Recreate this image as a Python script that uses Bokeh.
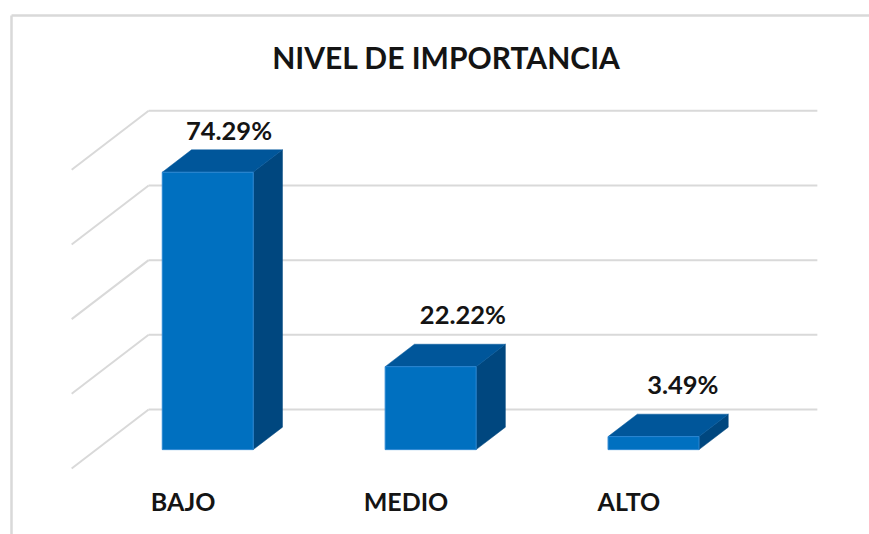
from bokeh.plotting import figure
from bokeh.models import Range1d, ColumnDataSource
from bokeh.embed import file_html
from bokeh.resources import INLINE
from bokeh.core.properties import value

# ---------------- data ----------------
categories = ["BAJO", "MEDIO", "ALTO"]
percentages = [74.29, 22.22, 3.49]
value_labels = ["74.29%", "22.22%", "3.49%"]
gridline_values = [0, 20, 40, 60, 80]
title_text = "NIVEL DE IMPORTANCIA"

# ---------------- layout constants (pixels in the window) ----------------
W, H = 869, 534
PAGE = 0
X0_PX = 182.6        # front-plane x of first category centre
STEP_PX = 222.9      # distance between categories
FLOOR_Y_PX = 468.0   # front edge of the floor (value 0, depth 0)
PX_PER_PCT = 3.734
DEPTH_DX_PX, DEPTH_DY_PX = 77.0, 59.0
TEXT_SHIFT_PX = -10  # baseline correction for svg text


def xd(px):
    return (px - X0_PX) / STEP_PX


def yd(py):
    return (FLOOR_Y_PX - py) / PX_PER_PCT


DDX = DEPTH_DX_PX / STEP_PX
DDY = DEPTH_DY_PX / PX_PER_PCT
D_FRONT, D_BACK = 0.32, 0.70
HALF_W = 0.204
FLOOR_L, FLOOR_R = -0.5, 2.5

FRONT_COLOR = "#0070C0"
TOP_COLOR = "#00569A"
SIDE_COLOR = "#00477F"
GRID_COLOR = "#d9d9d9"
TEXT_COLOR = "#141414"
FONT = "Lato"

p = figure(width=W, height=H, output_backend="svg", toolbar_location=None,
           x_range=Range1d(xd(PAGE), xd(PAGE + W)),
           y_range=Range1d(yd(PAGE + H), yd(PAGE)),
           x_axis_type=None, y_axis_type=None, min_border=0)
p.grid.visible = False
p.outline_line_color = None
p.background_fill_color = "white"
p.border_fill_color = "white"

# chart border (top and left visible)
p.line([xd(11), xd(PAGE + W)], [yd(15), yd(15)], line_color=GRID_COLOR, line_width=2.5)
p.line([xd(11), xd(11)], [yd(15), yd(PAGE + H)], line_color=GRID_COLOR, line_width=2.5)

# back wall gridlines and side wall diagonals
back_xs, back_ys, side_xs, side_ys = [], [], [], []
for g in gridline_values:
    back_xs.append([FLOOR_L + DDX, FLOOR_R + DDX])
    back_ys.append([g + DDY, g + DDY])
    side_xs.append([FLOOR_L, FLOOR_L + DDX])
    side_ys.append([g, g + DDY])
p.multi_line(back_xs, back_ys, line_color=GRID_COLOR, line_width=2)
p.multi_line(side_xs, side_ys, line_color=GRID_COLOR, line_width=2)

# 3D bars
front_xs, front_ys, top_xs, top_ys, side_bx, side_by = [], [], [], [], [], []
for i, v in enumerate(percentages):
    l = i - HALF_W
    r = i + HALF_W
    fx, fy = D_FRONT * DDX, D_FRONT * DDY
    bx, by = D_BACK * DDX, D_BACK * DDY
    front_xs.append([l + fx, r + fx, r + fx, l + fx])
    front_ys.append([fy, fy, v + fy, v + fy])
    top_xs.append([l + fx, l + bx, r + bx, r + fx])
    top_ys.append([v + fy, v + by, v + by, v + fy])
    side_bx.append([r + fx, r + bx, r + bx, r + fx])
    side_by.append([fy, by, v + by, v + fy])

p.patches(side_bx, side_by, fill_color=SIDE_COLOR, line_color=SIDE_COLOR, line_width=0.5)
p.patches(top_xs, top_ys, fill_color=TOP_COLOR, line_color=TOP_COLOR, line_width=0.5)
p.patches(front_xs, front_ys, fill_color=FRONT_COLOR, line_color="#2a86d2", line_width=1)

# value labels
label_dx_px = [-8, 3, 0]
label_gap_px = [10, 20, 20]
lab_src = ColumnDataSource(dict(
    x=[i + D_BACK * DDX for i in range(len(percentages))],
    y=[v + D_BACK * DDY for v in percentages],
    text=value_labels,
    dx=label_dx_px,
    dy=[-g + TEXT_SHIFT_PX for g in label_gap_px],
))
p.text(x="x", y="y", text="text", x_offset="dx", y_offset="dy", source=lab_src,
       text_font=value(FONT), text_font_style="bold", text_font_size="25.5px",
       text_color=TEXT_COLOR, text_align="center", text_baseline="alphabetic")

# category labels
cat_src = ColumnDataSource(dict(x=list(range(len(categories))),
                                y=[yd(510)] * len(categories),
                                text=categories))
p.text(x="x", y="y", text="text", source=cat_src, y_offset=TEXT_SHIFT_PX,
       text_font=value(FONT), text_font_style="bold", text_font_size="25px",
       text_color=TEXT_COLOR, text_align="center", text_baseline="alphabetic")

# title
p.text(x=[xd(446)], y=[yd(66.5)], text=[title_text], y_offset=TEXT_SHIFT_PX,
       text_font=value(FONT), text_font_style="bold", text_font_size="30px",
       text_color=TEXT_COLOR, text_align="center", text_baseline="alphabetic")

open("out.html", "w").write(file_html(p, INLINE))
